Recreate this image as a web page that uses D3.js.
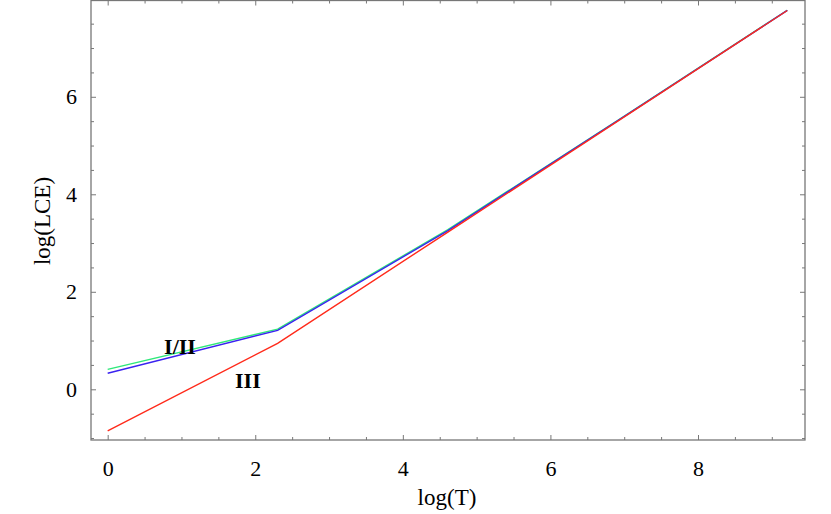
<!DOCTYPE html>
<html>
<head>
<meta charset="utf-8">
<script src="https://cdn.jsdelivr.net/npm/d3@7"></script>
<style>
  html, body { margin: 0; padding: 0; background: #fff; }
  svg text { font-family: "Liberation Serif", "Times New Roman", serif; }
</style>
</head>
<body>
<svg id="chart" width="831" height="514"></svg>
<script>
// ---- data (log T, log LCE) ----
const logT = [0, 2.303, 4.605, 6.908, 9.21];
const seriesGreen = [0.41, 1.235, 3.27, 5.51, 7.775];
const seriesBlue  = [0.33, 1.21, 3.25, 5.505, 7.772];
const seriesRed   = [-0.855, 0.944, 3.22, 5.495, 7.77];
const xMajorTicks = [0, 2, 4, 6, 8];
const yMajorTicks = [0, 2, 4, 6];
const xMinorTicks = [-0.5, 0.5, 1, 1.5, 2.5, 3, 3.5, 4.5, 5, 5.5, 6.5, 7, 7.5, 8.5, 9];
const yMinorTicks = [-1, -0.5, 0.5, 1, 1.5, 2.5, 3, 3.5, 4.5, 5, 5.5, 6.5, 7, 7.5];
const labels = [
  { text: "I/II", x: 0.98, y: 0.72 },
  { text: "III",  x: 1.9,  y: 0.02 }
];

const svg = d3.select("#chart");
const L = 91, R = 805, T = 0.5, B = 440;
const x = d3.scaleLinear().domain([-0.226, 9.45]).range([L, R]);
const y = d3.scaleLinear().domain([-1.04, 7.975]).range([B, T]);

const axisColor = "#777";
function styleAxis(g) {
  g.select(".domain").remove();
  g.selectAll(".tick line").attr("stroke", axisColor);
  g.selectAll(".tick text").attr("fill", "#000")
    .style("font-family", '"Liberation Serif", "Times New Roman", serif')
    .style("font-size", "22px");
}

// major/minor ticks on all four sides (inward)
svg.append("g").attr("transform", `translate(0,${B})`)
  .call(d3.axisBottom(x).tickValues(xMajorTicks).tickSize(-5).tickPadding(20).tickFormat(d3.format("d")))
  .call(styleAxis);
svg.append("g").attr("transform", `translate(0,${B})`)
  .call(d3.axisBottom(x).tickValues(xMinorTicks.filter(v => x(v) > L)).tickSize(-3).tickFormat(""))
  .call(styleAxis);
svg.append("g").attr("transform", `translate(0,${T})`)
  .call(d3.axisTop(x).tickValues(xMajorTicks).tickSize(-5).tickFormat(""))
  .call(styleAxis);
svg.append("g").attr("transform", `translate(0,${T})`)
  .call(d3.axisTop(x).tickValues(xMinorTicks.filter(v => x(v) > L)).tickSize(-3).tickFormat(""))
  .call(styleAxis);
svg.append("g").attr("transform", `translate(${L},0)`)
  .call(d3.axisLeft(y).tickValues(yMajorTicks).tickSize(-5).tickPadding(14).tickFormat(d3.format("d")))
  .call(styleAxis);
svg.append("g").attr("transform", `translate(${L},0)`)
  .call(d3.axisLeft(y).tickValues(yMinorTicks).tickSize(-3).tickFormat(""))
  .call(styleAxis);
svg.append("g").attr("transform", `translate(${R},0)`)
  .call(d3.axisRight(y).tickValues(yMajorTicks).tickSize(-5).tickFormat(""))
  .call(styleAxis);
svg.append("g").attr("transform", `translate(${R},0)`)
  .call(d3.axisRight(y).tickValues(yMinorTicks).tickSize(-3).tickFormat(""))
  .call(styleAxis);

// frame
svg.append("rect")
  .attr("x", L).attr("y", T).attr("width", R - L).attr("height", B - T)
  .attr("fill", "none").attr("stroke", axisColor).attr("stroke-width", 1.3);

// lines
const line = d3.line().x(d => x(d[0])).y(d => y(d[1]));
const series = [
  { vals: seriesGreen, color: "#2ee87a" },
  { vals: seriesBlue,  color: "#3a22f0" },
  { vals: seriesRed,   color: "#ff2a1a" }
];
series.forEach(s => {
  svg.append("path")
    .datum(logT.map((t, i) => [t, s.vals[i]]))
    .attr("fill", "none")
    .attr("stroke", s.color)
    .attr("stroke-width", 1.4)
    .attr("d", line);
});

// labels
labels.forEach(l => {
  svg.append("text")
    .attr("x", x(l.x)).attr("y", y(l.y))
    .attr("text-anchor", "middle")
    .style("font-size", "22px").style("font-weight", "bold")
    .text(l.text);
});

// axis titles
svg.append("text")
  .attr("x", 447).attr("y", 505)
  .attr("text-anchor", "middle")
  .style("font-size", "23px")
  .text("log(T)");
svg.append("text")
  .attr("transform", "translate(50,221) rotate(-90)")
  .attr("text-anchor", "middle")
  .style("font-size", "23px")
  .text("log(LCE)");
</script>
</body>
</html>
